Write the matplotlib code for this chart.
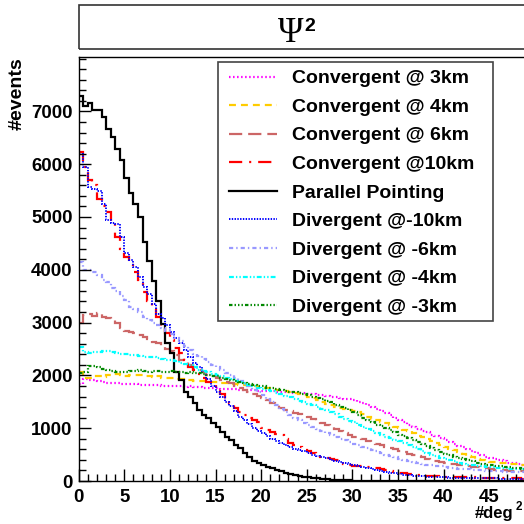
import numpy as np
import matplotlib
matplotlib.use("Agg")
import matplotlib.pyplot as plt
from matplotlib.lines import Line2D
from matplotlib.patches import Rectangle

plt.rcParams['lines.scale_dashes'] = False
plt.rcParams['font.family'] = ['Liberation Sans', 'DejaVu Sans']
plt.rcParams['font.weight'] = 'bold'

# 100 bins of 0.5 deg^2 from 0 to 50
bin_edges = np.linspace(0, 50, 101)

conv_3km = [1840, 1930, 1920, 1910, 1900, 1880, 1860, 1860, 1850, 1840,
            1840, 1830, 1830, 1820, 1820, 1810, 1820, 1810, 1800, 1800,
            1790, 1800, 1790, 1780, 1790, 1780, 1780, 1770, 1770, 1760,
            1760, 1750, 1750, 1740, 1740, 1730, 1730, 1720, 1720, 1710,
            1710, 1700, 1700, 1690, 1690, 1680, 1680, 1670, 1670, 1660,
            1650, 1640, 1630, 1620, 1610, 1600, 1590, 1580, 1560, 1550,
            1530, 1500, 1470, 1440, 1410, 1370, 1330, 1290, 1250, 1200,
            1150, 1110, 1070, 1030, 990, 950, 920, 880, 850, 810,
            780, 740, 710, 670, 640, 600, 560, 530, 490, 460,
            430, 410, 390, 370, 350, 340, 320, 300, 285, 270]

conv_4km = [2060, 1950, 1960, 1980, 1990, 1970, 2000, 2020, 2030, 2010,
            1990, 2000, 2010, 2000, 1990, 1980, 1970, 1980, 1960, 1950,
            1950, 1940, 1930, 1920, 1910, 1900, 1900, 1890, 1880, 1880,
            1870, 1860, 1850, 1840, 1830, 1820, 1810, 1800, 1790, 1780,
            1770, 1760, 1740, 1730, 1720, 1700, 1690, 1670, 1650, 1630,
            1600, 1570, 1530, 1490, 1450, 1430, 1410, 1390, 1370, 1350,
            1330, 1300, 1260, 1220, 1180, 1150, 1120, 1090, 1060, 1030,
            1000, 970, 940, 900, 860, 830, 790, 750, 720, 690,
            650, 610, 580, 550, 510, 480, 450, 420, 400, 380,
            365, 355, 345, 335, 325, 320, 315, 310, 305, 300]

conv_6km = [3000, 3150, 3160, 3120, 3180, 3100, 3080, 3070, 2990, 2900,
            2850, 2830, 2800, 2760, 2720, 2680, 2640, 2610, 2560, 2500,
            2460, 2380, 2300, 2250, 2190, 2130, 2100, 2060, 2010, 1980,
            1950, 1920, 1880, 1850, 1800, 1760, 1730, 1690, 1650, 1610,
            1570, 1530, 1480, 1440, 1390, 1340, 1320, 1290, 1260, 1230,
            1210, 1170, 1140, 1090, 1060, 1020, 980, 940, 900, 870,
            840, 820, 790, 760, 730, 700, 680, 650, 620, 600,
            570, 550, 520, 490, 470, 450, 420, 400, 380, 360,
            345, 330, 320, 310, 300, 285, 270, 260, 250, 240,
            225, 215, 210, 200, 195, 190, 185, 180, 175, 170]

conv_10km = [6230, 5940, 5700, 5600, 5350, 5200, 5090, 4900, 4620, 4400,
             4250, 4100, 3950, 3800, 3580, 3400, 3250, 3100, 2900, 2800,
             2670, 2520, 2420, 2300, 2160, 2100, 2030, 1950, 1870, 1810,
             1700, 1640, 1560, 1470, 1380, 1300, 1250, 1200, 1150, 1120,
             1000, 960, 920, 890, 870, 800, 720, 680, 640, 590,
             560, 530, 490, 460, 440, 420, 400, 370, 330, 300,
             290, 285, 280, 270, 250, 240, 220, 210, 190, 175,
             160, 145, 135, 125, 115, 105, 100, 95, 90, 85,
             80, 78, 75, 72, 70, 70, 68, 65, 62, 60,
             58, 55, 55, 52, 50, 50, 48, 45, 45, 42]

parallel = [7300, 7110, 7160, 7030, 7030, 6890, 6670, 6510, 6290, 6080,
            5740, 5450, 5240, 5000, 4520, 4160, 3780, 3400, 2980, 2610,
            2415, 2070, 1920, 1690, 1595, 1470, 1340, 1250, 1190, 1090,
            1015, 930, 840, 775, 680, 620, 525, 460, 385, 335,
            300, 270, 240, 210, 180, 155, 135, 115, 100, 85,
            72, 60, 50, 42, 35, 28, 22, 18, 14, 11,
            9, 7, 5, 4, 3, 2, 2, 1, 1, 1,
            0, 0, 0, 0, 0, 0, 0, 0, 0, 0,
            0, 0, 0, 0, 0, 0, 0, 0, 0, 0,
            0, 0, 0, 0, 0, 0, 0, 0, 0, 0]

div_10km = [6200, 5940, 5560, 5530, 5500, 5250, 4940, 4880, 4870, 4620,
            4310, 4180, 4050, 3860, 3670, 3550, 3360, 3170, 3080, 2950,
            2820, 2700, 2620, 2480, 2350, 2230, 2160, 2080, 1930, 1800,
            1680, 1590, 1500, 1420, 1330, 1220, 1150, 1080, 1000, 950,
            900, 850, 800, 760, 720, 680, 640, 610, 580, 560,
            530, 500, 470, 450, 430, 400, 380, 360, 340, 320,
            300, 280, 260, 240, 220, 200, 185, 170, 160, 145,
            130, 120, 110, 100, 95, 90, 85, 80, 75, 70,
            70, 65, 65, 60, 60, 58, 55, 55, 52, 50,
            50, 48, 45, 45, 42, 40, 40, 38, 36, 35]

div_6km = [4150, 4000, 3990, 3950, 3900, 3800, 3760, 3650, 3600, 3500,
           3420, 3300, 3250, 3200, 3100, 3050, 3000, 2950, 2900, 2840,
           2780, 2710, 2650, 2560, 2480, 2400, 2360, 2310, 2250, 2200,
           2150, 2100, 2050, 2000, 1950, 1900, 1840, 1790, 1730, 1680,
           1620, 1560, 1490, 1430, 1370, 1300, 1250, 1200, 1150, 1100,
           1060, 1020, 990, 950, 910, 870, 840, 800, 770, 730,
           700, 680, 650, 620, 590, 560, 530, 500, 470, 450,
           420, 400, 380, 360, 350, 330, 310, 300, 290, 280,
           260, 250, 245, 235, 230, 220, 215, 210, 200, 195,
           190, 185, 180, 178, 175, 170, 165, 162, 158, 155]

div_4km = [2530, 2440, 2420, 2440, 2450, 2470, 2460, 2440, 2420, 2410,
           2400, 2390, 2380, 2360, 2350, 2340, 2340, 2320, 2310, 2300,
           2290, 2270, 2240, 2220, 2190, 2150, 2110, 2090, 2060, 2030,
           2010, 1990, 1960, 1930, 1900, 1880, 1850, 1820, 1790, 1760,
           1740, 1720, 1700, 1670, 1640, 1610, 1590, 1560, 1520, 1490,
           1460, 1430, 1400, 1370, 1340, 1300, 1260, 1220, 1180, 1140,
           1110, 1070, 1030, 990, 950, 910, 870, 840, 810, 780,
           750, 720, 680, 640, 600, 570, 530, 500, 470, 440,
           410, 390, 370, 350, 330, 310, 300, 290, 280, 270,
           260, 250, 245, 240, 235, 230, 225, 220, 215, 210]

div_3km = [2050, 2060, 2180, 2170, 2150, 2120, 2100, 2080, 2070, 2060,
           2070, 2090, 2080, 2100, 2080, 2070, 2090, 2080, 2070, 2060,
           2080, 2070, 2060, 2050, 2060, 2050, 2040, 2020, 2000, 1990,
           1980, 1960, 1940, 1920, 1900, 1880, 1860, 1840, 1820, 1800,
           1790, 1770, 1760, 1740, 1720, 1700, 1690, 1680, 1660, 1640,
           1620, 1600, 1580, 1560, 1520, 1490, 1440, 1400, 1380, 1340,
           1300, 1250, 1200, 1150, 1110, 1070, 1040, 1000, 960, 920,
           880, 850, 810, 780, 740, 700, 660, 620, 590, 550,
           520, 490, 460, 440, 420, 400, 370, 340, 320, 310,
           300, 290, 280, 270, 260, 250, 240, 230, 225, 220]

labels = ["Convergent @ 3km", "Convergent @ 4km", "Convergent @ 6km",
          "Convergent @10km", "Parallel Pointing", "Divergent @-10km",
          "Divergent @ -6km", "Divergent @ -4km", "Divergent @ -3km"]
series = [conv_3km, conv_4km, conv_6km, conv_10km, parallel,
          div_10km, div_6km, div_4km, div_3km]
colors = ["#ff00ff", "#ffcc00", "#cc6666", "#ff0000", "#000000",
          "#0000ff", "#9999ff", "#00ffff", "#008800"]
styles = [(0, (1.1, 1.8)), (0, (5, 3.6)), (0, (9.5, 4.3)),
          (0, (9.5, 5, 1.5, 5)), "-", (0, (1, 1)),
          (0, (3, 2.2, 1, 2.2)), (0, (3.5, 1.5, 1, 1.5, 1, 1.5)),
          (0, (2.5, 1.5, 1, 1.5, 1, 1.5, 1, 1.5))]
widths = [1.6, 1.6, 1.6, 1.6, 1.6, 1.4, 1.6, 1.6, 1.6]

W = H = 524.0


def fx(x):
    return x / W


def fy(y):
    return 1 - y / H


fig = plt.figure(figsize=(5.24, 5.24), dpi=100)
x0, x50, y0, ytop = 78.7, 534.7, 481.0, 57.0
ax = fig.add_axes([fx(x0), fy(y0), fx(x50 - x0), (y0 - ytop) / H])

for vals, c, ls, lw in zip(series, colors, styles, widths):
    ax.stairs(vals, bin_edges, color=c, linestyle=ls, linewidth=lw,
              baseline=None)

ax.set_xlim(0, 50)
ax.set_ylim(0, 8030)
ax.set_xticks(np.arange(0, 51, 5))
ax.set_xticklabels([str(v) for v in range(0, 50, 5)] + [""])
ax.set_xticks(np.arange(0, 51, 1), minor=True)
ax.set_yticks(np.arange(0, 7001, 1000))
ax.set_yticks(np.arange(0, 8001, 200), minor=True)
ax.tick_params(which='both', direction='in', top=False, right=False,
               labelsize=13.4, width=1)
ax.tick_params(which='major', length=8.6)
ax.tick_params(which='minor', length=5)
ax.tick_params(axis='y', pad=4.3)
ax.tick_params(axis='x', pad=5.5)
for lab in ax.get_xticklabels() + ax.get_yticklabels():
    lab.set_fontweight('bold')
for sp in ax.spines.values():
    sp.set_linewidth(1.0)

# axis titles
fig.text(fx(17.5), fy(57), "#events", rotation=90, ha='right', va='center',
         rotation_mode='anchor', fontsize=14, fontweight='bold')
fig.text(fx(475), fy(518), "#deg", ha='left', va='baseline', fontsize=12,
         fontweight='bold')
fig.text(fx(515.5), fy(510), "2", ha='left', va='baseline', fontsize=8.5,
         fontweight='bold')

# title box
fig.add_artist(Rectangle((fx(78.5), fy(48.5)), fx(600), (48.5 - 5) / H,
                         transform=fig.transFigure, fill=False,
                         edgecolor='#333333', linewidth=1.2))
fig.text(fx(291), fy(42), "\u03a8", ha='center', va='baseline',
         fontsize=25, family='Liberation Serif', fontweight='normal')
fig.text(fx(304), fy(31), "2", ha='left', va='baseline', fontsize=14,
         fontweight='bold')

# legend box
lx0, lx1, ly0, ly1 = 218.3, 493.3, 61.7, 320.7
fig.add_artist(Rectangle((fx(lx0), fy(ly1)), fx(lx1 - lx0), (ly1 - ly0) / H,
                         transform=fig.transFigure, facecolor='white',
                         edgecolor='#444444', linewidth=1.2, zorder=5))
rows = [76.7, 105, 134, 162.3, 191, 219.3, 248.3, 276.7, 305]
for yrow, lab, c, ls, lw in zip(rows, labels, colors, styles, widths):
    fig.add_artist(Line2D([fx(229), fx(277)], [fy(yrow), fy(yrow)],
                          transform=fig.transFigure, color=c,
                          linestyle=ls, linewidth=lw, zorder=6))
    fig.text(fx(292.5), fy(yrow), lab, ha='left', va='center_baseline',
             fontsize=14, fontweight='bold', zorder=6)

fig.savefig("out.png", dpi=100)
